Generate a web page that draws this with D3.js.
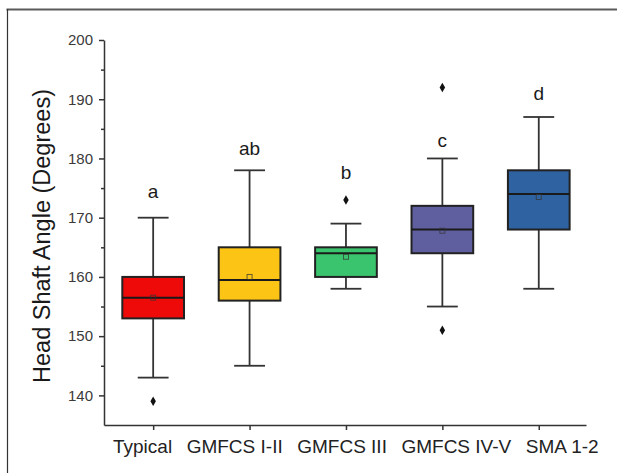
<!DOCTYPE html>
<html>
<head>
<meta charset="utf-8">
<script src="https://cdn.jsdelivr.net/npm/d3@7"></script>
<style>
	html, body { margin: 0; padding: 0; background: #fff; }
	svg { display: block; font-family: "Liberation Sans", Arial, sans-serif; }
</style>
</head>
<body>
<div id="chart"></div>
<script>
// groups and box statistics
var categories = ['Typical', 'GMFCS I-II', 'GMFCS III', 'GMFCS IV-V', 'SMA 1-2'];
var whiskerLow = [143, 145, 158, 155, 158];
var q1 = [153, 156, 160, 164, 168];
var medians = [156.5, 159.5, 164, 168, 174];
var q3 = [160, 165, 165, 172, 178];
var whiskerHigh = [170, 178, 169, 180, 187];
var means = [156.5, 160, 163.4, 167.8, 173.5];
var outliers = [[139], [], [173], [192, 151], []];
var sigLetters = ['a', 'ab', 'b', 'c', 'd'];
var sigLetterAt = [173.4, 180.6, 176.5, 182, 189.9];
var yTicks = [140, 150, 160, 170, 180, 190, 200];
var yMinorTicks = [145, 155, 165, 175, 185, 195];

var boxColors = ['#ef0a0a', '#fcc414', '#3bc46e', '#5f5f9f', '#2f62a0'];

function BoxChart(target) {
	'use strict';

	var width = 617, height = 473;

	var svg = d3.select(target)
		.append('svg')
		.attr('width', width)
		.attr('height', height);

	svg.append('rect')
		.attr('width', width)
		.attr('height', height)
		.attr('fill', '#fff');

	// frame of the figure panel (only top and left edge show)
	svg.append('line')
		.attr('x1', 6.5).attr('x2', width)
		.attr('y1', 9.5).attr('y2', 9.5)
		.attr('stroke', '#5a5a5a')
		.attr('stroke-width', 2);
	svg.append('line')
		.attr('x1', 7.5).attr('x2', 7.5)
		.attr('y1', 9).attr('y2', height)
		.attr('stroke', '#333')
		.attr('stroke-width', 1.2);

	var x = d3.scaleLinear().domain([0.49, 5.49]).range([104, 586]);
	var y = d3.scaleLinear().domain([135, 200]).range([425, 40]);

	var halfBox = 0.32;

	function xPos(i) { return x(i + 1); }
	function halfWidth() { return x(1 + halfBox) - x(1); }

	// axes
	var yAxis = svg.append('g')
		.attr('transform', 'translate(' + x.range()[0] + ',0)')
		.call(d3.axisLeft(y).tickValues(yTicks).tickSize(5).tickPadding(6).tickSizeOuter(0));
	var yMinor = svg.append('g')
		.attr('transform', 'translate(' + x.range()[0] + ',0)')
		.call(d3.axisLeft(y).tickValues(yMinorTicks).tickSize(3).tickFormat('').tickSizeOuter(0));
	yMinor.select('.domain').remove();

	var xAxis = svg.append('g')
		.attr('transform', 'translate(0,' + y.range()[0] + ')')
		.call(d3.axisBottom(x)
			.tickValues(categories.map(function(d, i) { return i + 1; }))
			.tickFormat('')
			.tickSize(5).tickSizeOuter(0));

	[yAxis, yMinor, xAxis].forEach(function(g) {
		g.selectAll('.domain, .tick line')
			.attr('stroke', '#333')
			.attr('stroke-width', 1.5);
	});
	yAxis.selectAll('.tick text')
		.attr('font-size', '15px')
		.attr('fill', '#3a3a3a')
		.attr('font-family', null);

	// category labels sit in one row of text, set a little wider than the ticks
	var labelRow = svg.append('g')
		.attr('transform', 'translate(113,453)');
	var cursor = 0;
	labelRow.selectAll('text')
		.data(categories)
		.enter()
		.append('text')
		.attr('font-size', '19px')
		.attr('fill', '#222')
		.text(function(d) { return d; })
		.each(function() {
			d3.select(this).attr('x', cursor);
			cursor += this.getComputedTextLength() + 14.5;
		});

	svg.append('text')
		.attr('transform', 'translate(50,236) rotate(-90)')
		.attr('text-anchor', 'middle')
		.attr('font-size', '23.5px')
		.attr('fill', '#1a1a1a')
		.text('Head Shaft Angle (Degrees)');

	// boxes
	var groups = svg.append('g')
		.selectAll('g.box')
		.data(categories)
		.enter()
		.append('g')
		.attr('class', 'box');

	groups.append('line')
		.attr('x1', function(d, i) { return xPos(i); })
		.attr('x2', function(d, i) { return xPos(i); })
		.attr('y1', function(d, i) { return y(whiskerLow[i]); })
		.attr('y2', function(d, i) { return y(whiskerHigh[i]); })
		.attr('stroke', '#333')
		.attr('stroke-width', 1.8);

	[whiskerLow, whiskerHigh].forEach(function(arr) {
		groups.append('line')
			.attr('x1', function(d, i) { return xPos(i) - halfWidth() / 2; })
			.attr('x2', function(d, i) { return xPos(i) + halfWidth() / 2; })
			.attr('y1', function(d, i) { return y(arr[i]); })
			.attr('y2', function(d, i) { return y(arr[i]); })
			.attr('stroke', '#333')
			.attr('stroke-width', 1.8);
	});

	groups.append('rect')
		.attr('x', function(d, i) { return xPos(i) - halfWidth(); })
		.attr('width', halfWidth() * 2)
		.attr('y', function(d, i) { return y(q3[i]); })
		.attr('height', function(d, i) { return y(q1[i]) - y(q3[i]); })
		.attr('fill', function(d, i) { return boxColors[i]; })
		.attr('stroke', '#222')
		.attr('stroke-width', 2);

	groups.append('line')
		.attr('x1', function(d, i) { return xPos(i) - halfWidth(); })
		.attr('x2', function(d, i) { return xPos(i) + halfWidth(); })
		.attr('y1', function(d, i) { return y(medians[i]); })
		.attr('y2', function(d, i) { return y(medians[i]); })
		.attr('stroke', '#1a1a1a')
		.attr('stroke-width', 2);

	groups.append('rect')
		.attr('x', function(d, i) { return xPos(i) - 2.5; })
		.attr('y', function(d, i) { return y(means[i]) - 2.5; })
		.attr('width', 5)
		.attr('height', 5)
		.attr('fill', 'none')
		.attr('stroke', '#333')
		.attr('stroke-opacity', 0.8)
		.attr('stroke-width', 0.9);

	groups.each(function(d, i) {
		d3.select(this).selectAll('path.outlier')
			.data(outliers[i])
			.enter()
			.append('path')
			.attr('class', 'outlier')
			.attr('d', d3.symbol().type(d3.symbolDiamond).size(26))
			.attr('transform', function(v) { return 'translate(' + xPos(i) + ',' + y(v) + ')'; })
			.attr('fill', '#111');
	});

	groups.append('text')
		.attr('x', function(d, i) { return xPos(i); })
		.attr('y', function(d, i) { return y(sigLetterAt[i]); })
		.attr('text-anchor', 'middle')
		.attr('font-size', '19px')
		.attr('fill', '#1a1a1a')
		.text(function(d, i) { return sigLetters[i]; });
}

BoxChart(document.getElementById('chart'));
</script>
</body>
</html>
